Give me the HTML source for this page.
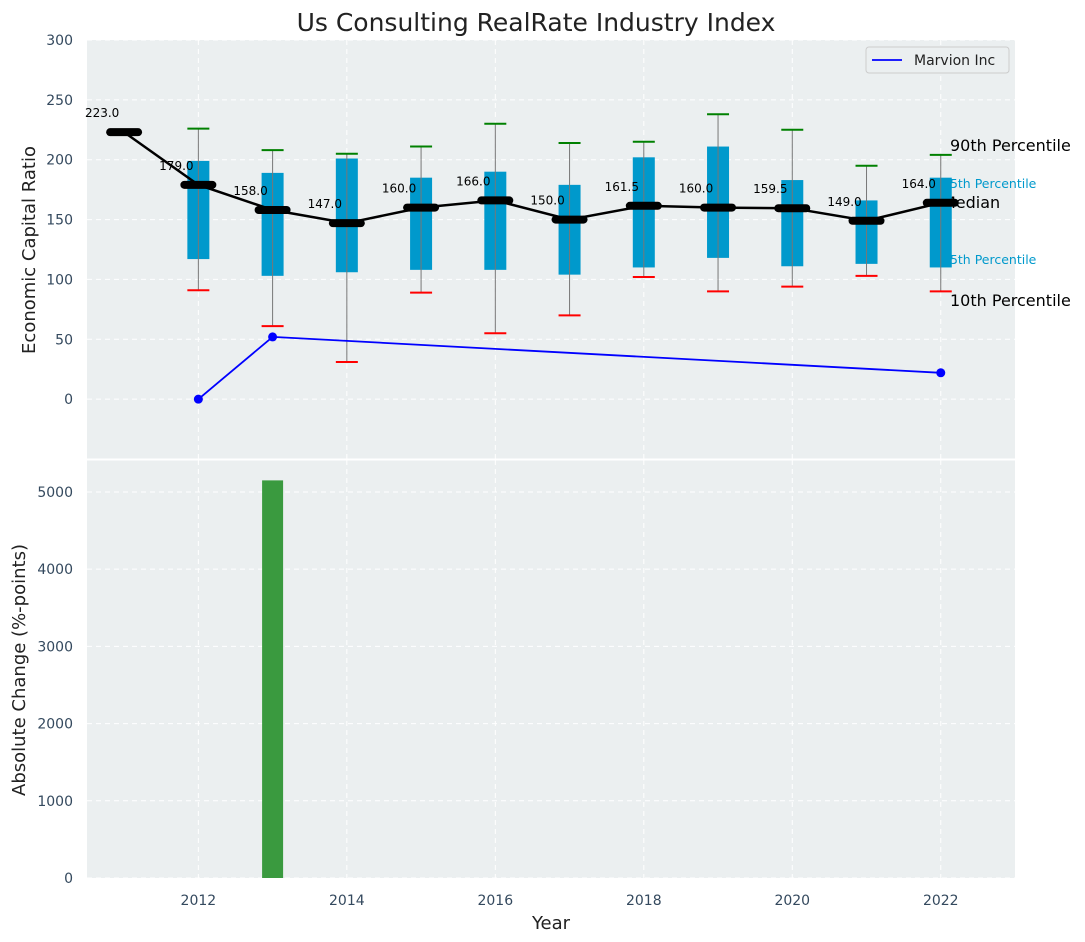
<!DOCTYPE html>
<html><head><meta charset="utf-8"><style>
body{margin:0;background:#fff;}
svg{display:block;font-family:"DejaVu Sans","Liberation Sans",sans-serif;}
</style></head><body>
<svg id="chart" width="1085" height="942" viewBox="0 0 1085 942" xmlns="http://www.w3.org/2000/svg"></svg>
<script>
const years=[2012,2013,2014,2015,2016,2017,2018,2019,2020,2021,2022];
const p10=[91,61,31,89,55,70,102,90,94,103,90];
const q1=[117,103,106,108,108,104,110,118,111,113,110];
const q3=[199,189,201,185,190,179,202,211,183,166,185];
const p90=[226,208,205,211,230,214,215,238,225,195,204];
const medYears=[2011,2012,2013,2014,2015,2016,2017,2018,2019,2020,2021,2022];
const medians=[223,179,158,147,160,166,150,161.5,160,159.5,149,164];
const companyYears=[2012,2013,2022];
const companyValues=[0,52,22];
const changeYears=[2013];
const changeValues=[5150];
const yTicksTop=[0,50,100,150,200,250,300];
const yTicksBot=[0,1000,2000,3000,4000,5000];
const xTicks=[2012,2014,2016,2018,2020,2022];

const NS="http://www.w3.org/2000/svg";
const svg=document.getElementById('chart');
const L=87,R=1015,T1=40,B1=459,T2=460,B2=878;
const x=v=>L+(v-2010.5)/(2023-2010.5)*(R-L);
const y1=v=>B1-(v+50)/350*(B1-T1);
const y2=v=>B2-v/5414*(B2-T2);
function el(tag,attrs,parent,text){const e=document.createElementNS(NS,tag);for(const k in attrs)e.setAttribute(k,attrs[k]);if(text!==undefined)e.textContent=text;(parent||svg).appendChild(e);return e;}

const defs=el('defs',{});
const cp=el('clipPath',{id:'c1'},defs);el('rect',{x:L,y:T1,width:R-L,height:B1-T1},cp);

let bg=el('rect',{x:L,y:T1,width:R-L,height:B1-T1,fill:'#ebeff0'});

bg=el('rect',{x:L,y:T2,width:R-L,height:B2-T2,fill:'#ebeff0'});


xTicks.forEach(t=>{
  el('line',{x1:x(t),x2:x(t),y1:T1,y2:B1,stroke:'#fff','stroke-dasharray':'5,4','stroke-width':1});
  el('line',{x1:x(t),x2:x(t),y1:T2,y2:B2,stroke:'#fff','stroke-dasharray':'5,4','stroke-width':1});
  const tl=el('text',{x:x(t),y:905,'text-anchor':'middle','font-size':14,fill:'#34495e'},null,t);
  
});
yTicksTop.forEach(t=>{
  el('line',{x1:L,x2:R,y1:y1(t),y2:y1(t),stroke:'#fff','stroke-dasharray':'5,4'});
  const tl=el('text',{x:73,y:y1(t)+5,'text-anchor':'end','font-size':14,fill:'#34495e'},null,t);
  
});
yTicksBot.forEach(t=>{
  el('line',{x1:L,x2:R,y1:y2(t),y2:y2(t),stroke:'#fff','stroke-dasharray':'5,4'});
  const tl=el('text',{x:73,y:y2(t)+5,'text-anchor':'end','font-size':14,fill:'#34495e'},null,t);
  
});

const g0=el('g',{});
[['90th Percentile',950,151,16,'#000'],['75th Percentile',942,188,12.5,'#0099cc'],['Median',942,208,16,'#000'],['25th Percentile',942,264,12.5,'#0099cc'],['10th Percentile',950,306,16,'#000']].forEach(a=>{
  const t=el('text',{x:a[1],y:a[2],'font-size':a[3],fill:a[4]},g0,a[0]);
  
});

const hw=11;
years.forEach((yr,i)=>{
  const g=el('g',{});
  
  el('rect',{x:x(yr)-hw,y:y1(q3[i]),width:2*hw,height:y1(q1[i])-y1(q3[i]),fill:'#0099cc'},g);
  el('line',{x1:x(yr),x2:x(yr),y1:y1(p10[i]),y2:y1(p90[i]),stroke:'#777','stroke-width':1},g);
  el('line',{x1:x(yr)-11,x2:x(yr)+11,y1:y1(p90[i]),y2:y1(p90[i]),stroke:'green','stroke-width':2},g);
  el('line',{x1:x(yr)-11,x2:x(yr)+11,y1:y1(p10[i]),y2:y1(p10[i]),stroke:'red','stroke-width':2},g);
});

let pts=medYears.map((yr,i)=>x(yr)+','+y1(medians[i])).join(' ');
let ml=el('polyline',{points:pts,fill:'none',stroke:'#000','stroke-width':2.5});

medYears.forEach((yr,i)=>{
  const m=el('line',{x1:x(yr)-14,x2:x(yr)+14,y1:y1(medians[i]),y2:y1(medians[i]),stroke:'#000','stroke-width':8,'stroke-linecap':'round'});
  
  const t=el('text',{x:x(yr)-22,y:y1(medians[i])-15,'text-anchor':'middle','font-size':12,fill:'#000'},null,medians[i].toFixed(1));
  
});

pts=companyYears.map((yr,i)=>x(yr)+','+y1(companyValues[i])).join(' ');
const cl=el('polyline',{points:pts,fill:'none',stroke:'#0000ff','stroke-width':1.8,'clip-path':'url(#c1)'});

companyYears.forEach((yr,i)=>{
  const c=el('circle',{cx:x(yr),cy:y1(companyValues[i]),r:4.5,fill:'#0000ff'});
  
});

changeYears.forEach((yr,i)=>{
  const b=el('rect',{x:x(yr)-10.5,y:y2(changeValues[i]),width:21,height:B2-y2(changeValues[i]),fill:'#3a9a3f'});
  
});

el('line',{x1:L,x2:R,y1:459.5,y2:459.5,stroke:'#fff','stroke-width':2});

const lg=el('g',{});

el('rect',{x:866,y:47,width:143,height:26,rx:3,fill:'#ebeff0',stroke:'#ccc'},lg);
el('line',{x1:872,x2:902,y1:60,y2:60,stroke:'#0000ff','stroke-width':1.8},lg);
const lt=el('text',{x:914,y:65,'font-size':14,fill:'#222'},lg,'Marvion Inc');


let t=el('text',{x:536,y:31,'text-anchor':'middle','font-size':25,fill:'#222'},null,'Us Consulting RealRate Industry Index');

t=el('text',{x:551,y:929,'text-anchor':'middle','font-size':18,fill:'#222'},null,'Year');

t=el('text',{x:0,y:0,'text-anchor':'middle','font-size':18,fill:'#222',transform:'translate(35,250) rotate(-90)'},null,'Economic Capital Ratio');

t=el('text',{x:0,y:0,'text-anchor':'middle','font-size':18,fill:'#222',transform:'translate(25,670) rotate(-90)'},null,'Absolute Change (%-points)');

</script>
</body></html>
